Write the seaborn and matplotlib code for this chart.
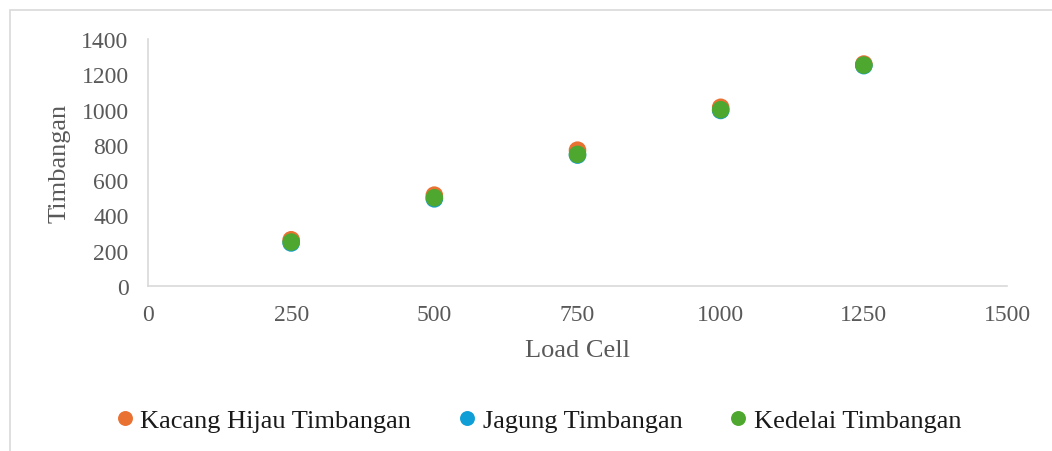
import matplotlib
matplotlib.use("Agg")
import matplotlib.pyplot as plt
from matplotlib.patches import Rectangle
import seaborn as sns
import pandas as pd

load_cell = [250, 500, 750, 1000, 1250]
kacang_hijau = [262, 515, 770, 1013, 1258]
jagung = [244, 494, 742, 995, 1249]
kedelai = [249, 500, 746, 999, 1252]
series_names = ["Kacang Hijau Timbangan", "Jagung Timbangan", "Kedelai Timbangan"]
colors = ["#E97132", "#0F9ED5", "#4EA72E"]
x_ticks = [0, 250, 500, 750, 1000, 1250, 1500]
y_ticks = [0, 200, 400, 600, 800, 1000, 1200, 1400]

rows = []
for name, vals in zip(series_names, [kacang_hijau, jagung, kedelai]):
    for x, y in zip(load_cell, vals):
        rows.append({"Load Cell": x, "Timbangan": y, "Series": name})
df = pd.DataFrame(rows)

sns.set_style("white")
plt.rcParams["font.family"] = ["Liberation Serif", "DejaVu Serif"]

fig = plt.figure(figsize=(10.52, 4.52), dpi=100)
ax = fig.add_axes([148 / 1052, 1 - 287 / 452, (1007 - 148) / 1052, (287 - 40) / 452])

sns.scatterplot(data=df, x="Load Cell", y="Timbangan", hue="Series",
                palette=colors, s=160, edgecolor="none", linewidth=0,
                ax=ax, legend=True)

ax.set_xlim(0, 1500)
ax.set_ylim(0, 1400)
ax.set_xticks(x_ticks)
ax.set_yticks(y_ticks)
ax.tick_params(axis="both", length=0, labelsize=17, labelcolor="#595959")
ax.tick_params(axis="y", pad=14)
ax.tick_params(axis="x", pad=13)
for side in ["top", "right"]:
    ax.spines[side].set_visible(False)
for side in ["left", "bottom"]:
    ax.spines[side].set_color("#D9D9D9")
    ax.spines[side].set_linewidth(1.2)
ax.set_xlabel("Load Cell", fontsize=19, color="#595959", labelpad=10)
ax.set_ylabel("Timbangan", fontsize=19, color="#595959", labelpad=8)

handles, labels = ax.get_legend_handles_labels()
ax.get_legend().remove()
fig.legend(handles, labels, loc="center", bbox_to_anchor=(0.5035, 1 - 421 / 452),
           ncol=3, frameon=False, fontsize=19, handletextpad=-0.4,
           columnspacing=1.1, markerscale=0.85, labelcolor="#1A1A1A")

fig.patches.append(Rectangle((10 / 1052, -0.1), 1.2, (452 - 11) / 452 + 0.1,
                             transform=fig.transFigure, fill=False,
                             edgecolor="#D9D9D9", linewidth=1.2))

fig.savefig("out.png", dpi=100, facecolor="white")
